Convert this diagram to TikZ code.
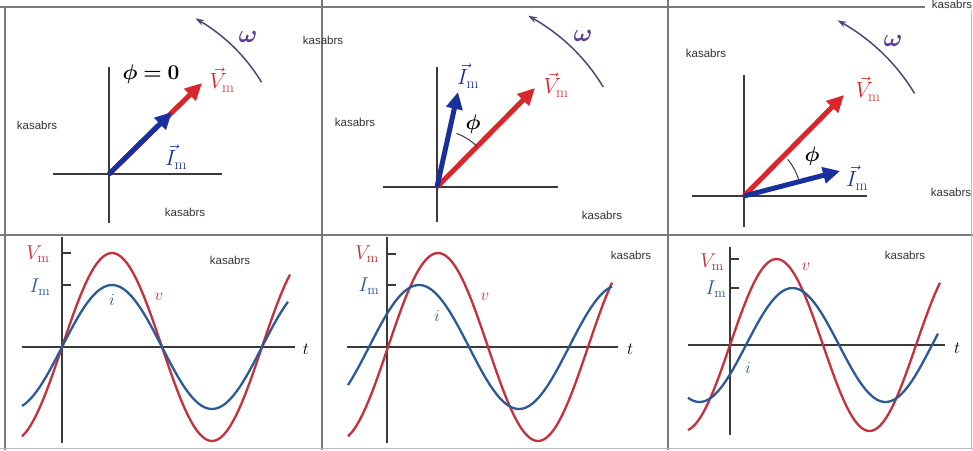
\RequirePackage{fix-cm}
\documentclass[tikz,border=0pt]{standalone}
\usepackage{amsmath}
\usepackage{bm}
\usepackage{fontspec}
\newfontfamily\labfont{Liberation Sans}
\usetikzlibrary{arrows.meta}
\definecolor{vred}{HTML}{D8262A}
\definecolor{iblue}{HTML}{1A2F9E}
\definecolor{cred}{HTML}{C4303C}
\definecolor{cblue}{HTML}{2C5A94}
\definecolor{omg}{HTML}{5A3C96}
\definecolor{omgarc}{HTML}{4A4A78}
\definecolor{gridc}{HTML}{7A7A7A}
\definecolor{axisc}{HTML}{3A3A3A}
\begin{document}
\begin{tikzpicture}[x=1pt,y=-1pt,
  gridline/.style={draw=gridc,line width=1.4pt},
  axisline/.style={draw=axisc,line width=1.5pt},
  vphasor/.style={draw=vred,line width=5pt,-{Triangle[length=17pt,width=16pt]}},
  iphasor/.style={draw=iblue,line width=5pt,-{Triangle[length=17pt,width=16pt]}},
  phiarc/.style={draw=axisc,line width=1pt},
  omegaarc/.style={draw=omgarc,line width=1.5pt,-{Stealth[length=9pt,width=6pt]}},
  redcurve/.style={draw=cred,line width=2.3pt},
  bluecurve/.style={draw=cblue,line width=2.3pt},
  wm/.style={font=\labfont\fontsize{11.5}{11.5}\selectfont,text=black!80,inner sep=0pt},
  biglab/.style={font=\fontsize{22}{22}\selectfont,inner sep=0pt},
  glab/.style={font=\fontsize{20}{20}\selectfont,inner sep=0pt},
  smlab/.style={font=\fontsize{17}{17}\selectfont,inner sep=0pt},
  omlab/.style={font=\fontsize{25}{25}\selectfont,text=omg,inner sep=0pt},
  phlab/.style={font=\fontsize{21}{21}\selectfont,inner sep=0pt}]
\useasboundingbox (0,0) rectangle (973,450);
\fill[white] (0,0) rectangle (973,450);
% frame
\draw[gridline] (0,7) -- (925,7);
\draw[gridline] (5,7) -- (5,450);
\draw[gridline] (322,0) -- (322,450);
\draw[gridline] (668,0) -- (668,450);
\draw[gridline] (0,235) -- (973,235);
\draw[draw=gridc!50,line width=1pt] (0,448.5) -- (973,448.5);
\draw[draw=gridc!50,line width=1pt] (971.5,10) -- (971.5,450);
% small labels
\node[wm] (k0) at (952,4) {kasabrs};
\node[wm] (k1) at (323,40) {kasabrs};
\node[wm] (k2) at (37,125) {kasabrs};
\node[wm] (k3) at (185,212) {kasabrs};
\node[wm] (k4) at (355,122) {kasabrs};
\node[wm] (k5) at (602,215) {kasabrs};
\node[wm] (k6) at (706,53) {kasabrs};
\node[wm] (k7) at (951,192) {kasabrs};
\node[wm] (k8) at (230,260) {kasabrs};
\node[wm] (k9) at (631,255) {kasabrs};
\node[wm] (k10) at (905,255) {kasabrs};

% ---------- Panel 1 phasors
\coordinate (o1) at (109,174);
\coordinate (v1) at (202,83);
\coordinate (i1) at (172,112);
\draw[axisline] (109,67) -- (109,223);
\draw[axisline] (53,174) -- (222,174);
\draw[omegaarc] plot[domain=31:61,samples=30] ({109+178*cos(\x)},{174-178*sin(\x)});
\node[omlab] (w1) at (248,37) {$\bm{\omega}$};
\draw[vphasor] (o1) -- (v1);
\draw[iphasor] (o1) -- (i1);
\node[phlab] (p1) at (151,74) {$\bm{\phi = 0}$};
\node[biglab,text=vred] (lv1) at (222,80) {$\vec{V}_{\mathrm{m}}$};
\node[biglab,text=iblue] (li1) at (176,157) {$\vec{I}_{\mathrm{m}}$};

% ---------- Panel 2 phasors
\coordinate (o2) at (437,187);
\coordinate (v2) at (535,88);
\coordinate (i2) at (458,92);
\draw[axisline] (437,67) -- (437,222);
\draw[axisline] (383,187) -- (558,187);
\draw[omegaarc] plot[domain=31:62,samples=30] ({437+194*cos(\x)},{187-194*sin(\x)});
\node[omlab] (w2) at (583,36) {$\bm{\omega}$};
\draw[vphasor] (o2) -- (v2);
\draw[iphasor] (o2) -- (i2);
\draw[phiarc] plot[domain=46:70,samples=20] ({437+57*cos(\x)},{187-57*sin(\x)});
\node[phlab] (p2) at (473,124) {$\bm{\phi}$};
\node[biglab,text=vred] (lv2) at (556,85) {$\vec{V}_{\mathrm{m}}$};
\node[biglab,text=iblue] (li2) at (468,76) {$\vec{I}_{\mathrm{m}}$};

% ---------- Panel 3 phasors
\coordinate (o3) at (744,196);
\coordinate (v3) at (844,95);
\coordinate (i3) at (840,171);
\draw[axisline] (744,75) -- (744,227);
\draw[axisline] (692,196) -- (867,196);
\draw[omegaarc] plot[domain=31:62,samples=30] ({744+199*cos(\x)},{196-199*sin(\x)});
\node[omlab] (w3) at (893,41) {$\bm{\omega}$};
\draw[vphasor] (o3) -- (v3);
\draw[iphasor] (o3) -- (i3);
\draw[phiarc] plot[domain=16:40,samples=20] ({744+57*cos(\x)},{196-57*sin(\x)});
\node[phlab] (p3) at (812,156) {$\bm{\phi}$};
\node[biglab,text=vred] (lv3) at (868,89) {$\vec{V}_{\mathrm{m}}$};
\node[biglab,text=iblue] (li3) at (857,178) {$\vec{I}_{\mathrm{m}}$};

% ---------- Graph 1
\draw[axisline] (62,237) -- (62,443);
\draw[axisline] (22,347) -- (295,347);
\draw[axisline] (62,253) -- (71,253);
\draw[axisline] (62,285) -- (71,285);
\node[smlab] (t1) at (306,349) {$t$};
\node[glab,text=cred] (gv1) at (38,254) {$V_{\mathrm{m}}$};
\node[glab,text=cblue] (gi1) at (40,287) {$I_{\mathrm{m}}$};
\draw[redcurve] plot[domain=22:290,samples=90] (\x,{347-94*sin((\x-62)*1.8)});
\draw[bluecurve] plot[domain=22:288,samples=90] (\x,{347-62*sin((\x-62)*1.8)});
\node[smlab,text=cblue] (ci1) at (112,300) {$i$};
\node[smlab,text=cred] (cv1) at (159,297) {$v$};

% ---------- Graph 2
\draw[axisline] (387,237) -- (387,443);
\draw[axisline] (347,347) -- (618,347);
\draw[axisline] (387,254) -- (396,254);
\draw[axisline] (387,285) -- (396,285);
\node[smlab] (t2) at (630,349) {$t$};
\node[glab,text=cred] (gv2) at (367,254) {$V_{\mathrm{m}}$};
\node[glab,text=cblue] (gi2) at (369,286) {$I_{\mathrm{m}}$};
\draw[redcurve] plot[domain=348:612,samples=90] (\x,{347-94*sin((\x-388)*1.8)});
\draw[bluecurve] plot[domain=348:612,samples=90] (\x,{347-62*sin((\x-369)*1.8)});
\node[smlab,text=cblue] (ci2) at (437,316) {$i$};
\node[smlab,text=cred] (cv2) at (485,297) {$v$};

% ---------- Graph 3
\draw[axisline] (730,247) -- (730,435);
\draw[axisline] (688,345) -- (945,345);
\draw[axisline] (730,259) -- (739,259);
\draw[axisline] (730,288) -- (739,288);
\node[smlab] (t3) at (957,348) {$t$};
\node[glab,text=cred] (gv3) at (712,262) {$V_{\mathrm{m}}$};
\node[glab,text=cblue] (gi3) at (716,289) {$I_{\mathrm{m}}$};
\draw[redcurve] plot[domain=688:940,samples=90] (\x,{345-86*sin((\x-730)*1.935)});
\draw[bluecurve] plot[domain=688:938,samples=90] (\x,{345-57*sin((\x-746)*1.935)});
\node[smlab,text=cblue] (ci3) at (748,368) {$i$};
\node[smlab,text=cred] (cv3) at (806,267) {$v$};
\end{tikzpicture}
\end{document}
